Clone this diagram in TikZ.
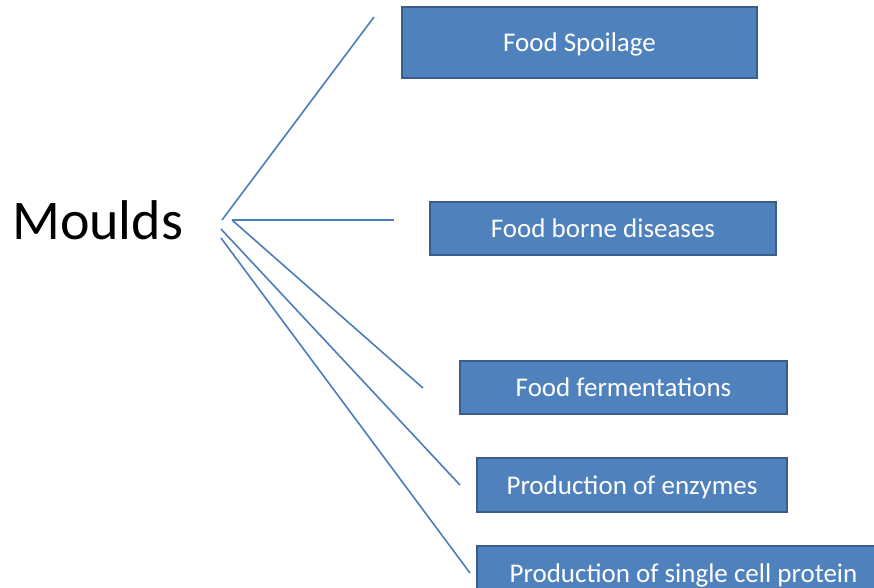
\documentclass[tikz,border=0pt]{standalone}
\usepackage{fontspec}
\setmainfont{Carlito}
\definecolor{boxfill}{HTML}{4F81BD}
\definecolor{boxline}{HTML}{385D8A}
\definecolor{linkcol}{HTML}{4A7EBB}
\begin{document}
\begin{tikzpicture}[x=1pt,y=-1pt,
  itembox/.style={draw=boxline, line width=2pt, fill=boxfill, text=white,
    font=\fontsize{27}{30}\selectfont, inner sep=0pt, anchor=center,
    text height=18pt, text depth=0pt},
  link/.style={draw=linkcol, line width=1.6pt}]
\useasboundingbox (0,0) rectangle (874,587);
\clip (0,0) rectangle (874,587);
\node[anchor=base west, inner sep=0pt, font=\fontsize{56}{60}\selectfont] (moulds) at (12,239) {Moulds};

\node[itembox, minimum width=355pt, minimum height=71pt] (b1) at (579.5,42.5) {Food Spoilage};
\node[itembox, minimum width=346pt, minimum height=53pt] (b2) at (603,228.5) {Food borne diseases};
\node[itembox, minimum width=327pt, minimum height=53pt] (b3) at (623.5,387.5) {Food fermentations};
\node[itembox, minimum width=310pt, minimum height=54pt] (b4) at (632,485) {Production of enzymes};
\node[itembox, minimum width=413pt, minimum height=54pt] (b5) at (683.5,573) {Production of single cell protein};

\coordinate (s1) at (222,220);
\coordinate (s2) at (232,220);
\coordinate (s4) at (221,229);
\coordinate (s5) at (221,238);
\coordinate (e1) at (374,17);
\coordinate (e2) at (394,220);
\coordinate (e3) at (423,388);
\coordinate (e4) at (460,485);
\coordinate (e5) at (470,573);

\draw[link] (s1) -- (e1);
\draw[link] (s2) -- (e2);
\draw[link] (s2) -- (e3);
\draw[link] (s4) -- (e4);
\draw[link] (s5) -- (e5);
\end{tikzpicture}
\end{document}
